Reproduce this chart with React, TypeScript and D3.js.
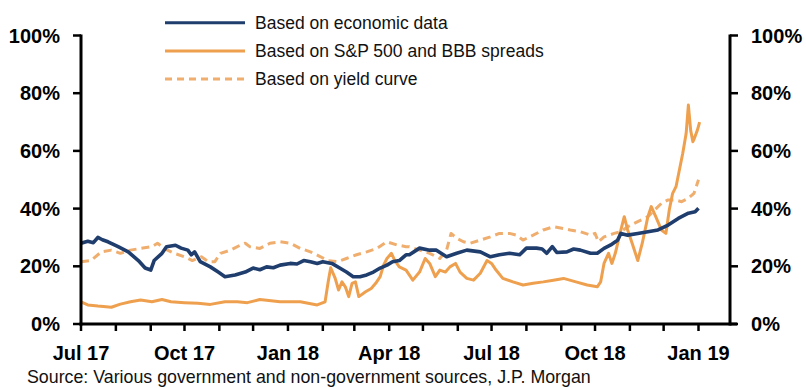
import React from "react";
import * as d3 from "d3";

const legendLabels = [
  "Based on economic data",
  "Based on S&P 500 and BBB spreads",
  "Based on yield curve",
];
const yTicks = [0, 20, 40, 60, 80, 100];
const xLabelMonths = ["2017-07-01", "2017-10-01", "2018-01-01", "2018-04-01", "2018-07-01", "2018-10-01", "2019-01-01"];
const xLabelTexts = ["Jul 17", "Oct 17", "Jan 18", "Apr 18", "Jul 18", "Oct 18", "Jan 19"];
const sourceText = "Source: Various government and non-government sources, J.P. Morgan";

const economic: [string, number][] = [
  ["2017-07-01", 28], ["2017-07-07", 28.7], ["2017-07-12", 28.2], ["2017-07-16", 30], ["2017-07-20", 29.2],
  ["2017-07-25", 28.5], ["2017-08-03", 26.8], ["2017-08-12", 25], ["2017-08-21", 22], ["2017-08-27", 19.4],
  ["2017-09-01", 18.7], ["2017-09-04", 22], ["2017-09-11", 24.5], ["2017-09-15", 26.8], ["2017-09-23", 27.3],
  ["2017-09-28", 26.3], ["2017-10-04", 25.6], ["2017-10-07", 24], ["2017-10-10", 25], ["2017-10-15", 21.6],
  ["2017-10-24", 19.8], ["2017-10-31", 18], ["2017-11-06", 16.4], ["2017-11-15", 17], ["2017-11-24", 18],
  ["2017-12-01", 19.4], ["2017-12-07", 18.8], ["2017-12-13", 19.8], ["2017-12-19", 19.5], ["2017-12-25", 20.4],
  ["2018-01-03", 21], ["2018-01-09", 20.8], ["2018-01-15", 22], ["2018-01-21", 21.6], ["2018-01-27", 21],
  ["2018-02-01", 21.6], ["2018-02-09", 21], ["2018-02-16", 19.4], ["2018-02-22", 18], ["2018-02-28", 16.4],
  ["2018-03-06", 16.4], ["2018-03-12", 17], ["2018-03-18", 18], ["2018-03-24", 19.4], ["2018-03-30", 20.4],
  ["2018-04-04", 21.6], ["2018-04-10", 22], ["2018-04-16", 24], ["2018-04-19", 24], ["2018-04-28", 26.3],
  ["2018-05-07", 25.6], ["2018-05-13", 25.6], ["2018-05-22", 23.3], ["2018-05-31", 24.5], ["2018-06-09", 25.6],
  ["2018-06-21", 25], ["2018-06-30", 23.3], ["2018-07-08", 24], ["2018-07-17", 24.5], ["2018-07-26", 24],
  ["2018-08-01", 26.3], ["2018-08-10", 26.3], ["2018-08-15", 26], ["2018-08-19", 24.5], ["2018-08-24", 26.8],
  ["2018-08-28", 24.8], ["2018-09-06", 25], ["2018-09-12", 26], ["2018-09-18", 25.6], ["2018-09-27", 24.5],
  ["2018-10-03", 24.5], ["2018-10-09", 26.2], ["2018-10-15", 27.4], ["2018-10-21", 29], ["2018-10-24", 31.4],
  ["2018-10-30", 30.8], ["2018-11-08", 31.4], ["2018-11-17", 32], ["2018-11-26", 32.6], ["2018-12-05", 34.3],
  ["2018-12-14", 36.6], ["2018-12-23", 38.4], ["2018-12-29", 38.9], ["2019-01-01", 40.1],
];

const spreads: [string, number][] = [
  ["2017-07-01", 7.7], ["2017-07-07", 6.6], ["2017-07-16", 6.2], ["2017-07-28", 5.8], ["2017-08-05", 6.9],
  ["2017-08-14", 7.7], ["2017-08-23", 8.3], ["2017-09-02", 7.7], ["2017-09-11", 8.5], ["2017-09-19", 7.7],
  ["2017-10-01", 7.4], ["2017-10-13", 7.2], ["2017-10-24", 6.8], ["2017-11-06", 7.7], ["2017-11-17", 7.7],
  ["2017-11-26", 7.4], ["2017-12-07", 8.5], ["2017-12-25", 7.7], ["2018-01-12", 7.7], ["2018-01-27", 6.6],
  ["2018-02-03", 7.7], ["2018-02-06", 15.2], ["2018-02-08", 19.5], ["2018-02-12", 15.8], ["2018-02-15", 11.8],
  ["2018-02-18", 14.6], ["2018-02-21", 12.9], ["2018-02-24", 9.5], ["2018-02-27", 14.1], ["2018-03-02", 14.6],
  ["2018-03-05", 9.5], ["2018-03-11", 11.2], ["2018-03-16", 12.3], ["2018-03-20", 14.1], ["2018-03-24", 16.4],
  ["2018-03-27", 20.4], ["2018-03-30", 22.7], ["2018-04-03", 24.5], ["2018-04-06", 22], ["2018-04-10", 19.8],
  ["2018-04-16", 18.7], ["2018-04-22", 15.2], ["2018-04-28", 18], ["2018-05-03", 22.7], ["2018-05-07", 21],
  ["2018-05-12", 16.4], ["2018-05-16", 18.7], ["2018-05-21", 18], ["2018-05-25", 19.8], ["2018-05-30", 21],
  ["2018-06-03", 18], ["2018-06-09", 15.8], ["2018-06-15", 15.2], ["2018-06-21", 17.6], ["2018-06-27", 22],
  ["2018-07-01", 21], ["2018-07-05", 18.7], ["2018-07-11", 15.8], ["2018-07-20", 14.6], ["2018-07-29", 13.5],
  ["2018-08-07", 14.1], ["2018-08-16", 14.6], ["2018-08-25", 15.2], ["2018-09-03", 15.8], ["2018-09-14", 14.6],
  ["2018-09-24", 13.5], ["2018-10-03", 12.9], ["2018-10-06", 14.6], ["2018-10-09", 21], ["2018-10-13", 24.5],
  ["2018-10-16", 21], ["2018-10-19", 24.5], ["2018-10-24", 32.6], ["2018-10-27", 37.2], ["2018-10-30", 32.6],
  ["2018-11-03", 28], ["2018-11-08", 22], ["2018-11-12", 28], ["2018-11-17", 37.2], ["2018-11-20", 40.7],
  ["2018-11-24", 37.2], ["2018-11-29", 32.6], ["2018-12-03", 31.4], ["2018-12-06", 39.5], ["2018-12-09", 45.3],
  ["2018-12-12", 47.6], ["2018-12-15", 53.4], ["2018-12-18", 59.2], ["2018-12-21", 66], ["2018-12-23", 75.9],
  ["2018-12-25", 67.2], ["2018-12-27", 63.2], ["2018-12-28", 64], ["2018-12-31", 67.2], ["2019-01-02", 70],
];

const yieldCurve: [string, number][] = [
  ["2017-07-01", 21.6], ["2017-07-10", 22], ["2017-07-19", 25], ["2017-07-28", 25.6], ["2017-08-05", 24.5],
  ["2017-08-14", 25.6], ["2017-08-23", 26.2], ["2017-09-02", 26.8], ["2017-09-07", 28], ["2017-09-13", 26.2],
  ["2017-09-22", 24.5], ["2017-10-01", 23.3], ["2017-10-08", 22], ["2017-10-16", 23.3], ["2017-10-22", 21.6],
  ["2017-10-28", 21.6], ["2017-11-02", 24.5], ["2017-11-11", 25.6], ["2017-11-20", 27.4], ["2017-11-24", 28],
  ["2017-11-28", 26.8], ["2017-12-07", 26.2], ["2017-12-16", 28], ["2017-12-25", 28.5], ["2018-01-03", 28],
  ["2018-01-12", 26.2], ["2018-01-21", 25], ["2018-01-30", 23.3], ["2018-02-05", 22], ["2018-02-14", 21.6],
  ["2018-02-22", 22.7], ["2018-03-03", 24], ["2018-03-12", 25], ["2018-03-21", 26.2], ["2018-03-30", 28.5],
  ["2018-04-08", 27.4], ["2018-04-16", 26.8], ["2018-04-19", 26.8], ["2018-04-28", 25.6], ["2018-05-07", 24.5],
  ["2018-05-16", 22.7], ["2018-05-22", 25.6], ["2018-05-26", 31.4], ["2018-05-31", 29.7], ["2018-06-06", 28.5],
  ["2018-06-12", 28], ["2018-06-21", 29.1], ["2018-06-30", 30.2], ["2018-07-08", 31.4], ["2018-07-17", 31.4],
  ["2018-07-23", 30.8], ["2018-07-29", 29.1], ["2018-08-07", 30.8], ["2018-08-16", 32.6], ["2018-08-25", 33.7],
  ["2018-09-03", 33.1], ["2018-09-09", 32.6], ["2018-09-18", 32], ["2018-09-27", 30.8], ["2018-10-01", 31.4],
  ["2018-10-04", 28.5], ["2018-10-09", 30.2], ["2018-10-18", 31.4], ["2018-10-24", 32], ["2018-10-30", 33.7],
  ["2018-11-08", 35.5], ["2018-11-17", 37.2], ["2018-11-23", 39.5], ["2018-11-29", 41.8], ["2018-12-05", 43],
  ["2018-12-11", 43], ["2018-12-17", 42.4], ["2018-12-23", 43.6], ["2018-12-28", 45.3], ["2019-01-01", 50],
];

const parse = d3.timeParse("%Y-%m-%d");

const BLUE = "#1f3d6d";
const ORANGE = "#eea04e";
const ORANGE_LIGHT = "#f0ae6e";

export default function App() {
  const W = 806, H = 388;
  const left = 81, right = 730, top = 35.5, bottom = 324;
  const x = d3.scaleTime()
    .domain([parse("2017-07-01")!, parse("2019-01-29")!])
    .range([left, right]);
  const y = d3.scaleLinear().domain([0, 100]).range([bottom, top]);

  const line = d3.line<[string, number]>()
    .x((d) => x(parse(d[0])!))
    .y((d) => y(d[1]));

  const monthTicks = d3.timeMonth.range(parse("2017-07-01")!, parse("2019-01-02")!);
  const font = "'Liberation Sans', Arial, sans-serif";

  const series = [
    { data: yieldCurve, color: ORANGE_LIGHT, width: 3, dash: "8,5" },
    { data: spreads, color: ORANGE, width: 3, dash: undefined },
    { data: economic, color: BLUE, width: 3.6, dash: undefined },
  ];
  const legendStyles = [
    { color: BLUE, width: 3, dash: undefined },
    { color: ORANGE, width: 3, dash: undefined },
    { color: ORANGE_LIGHT, width: 3, dash: "7,5" },
  ];

  return (
    <svg width={W} height={H} style={{ position: "absolute", left: 0, top: 0, background: "#fff" }} fontFamily={font}>
      {/* legend */}
      {legendLabels.map((lab, i) => {
        const ly = 22.7 + i * 28.2;
        const st = legendStyles[i];
        return (
          <g key={lab}>
            <line x1={165} x2={245} y1={ly} y2={ly} stroke={st.color} strokeWidth={st.width} strokeDasharray={st.dash} />
            <text x={255} y={ly + 6} fontSize={17.5} fill="#111">{lab}</text>
          </g>
        );
      })}

      {/* series */}
      {series.map((s, i) => (
        <path key={i} d={line(s.data) || ""} fill="none" stroke={s.color} strokeWidth={s.width}
          strokeDasharray={s.dash} strokeLinejoin="round" />
      ))}

      {/* axes */}
      <line x1={left} x2={left} y1={top - 1} y2={bottom + 1.5} stroke="#000" strokeWidth={3} />
      <line x1={right} x2={right} y1={top - 1} y2={bottom + 1.5} stroke="#000" strokeWidth={3} />
      <line x1={left - 1.5} x2={right + 7} y1={bottom} y2={bottom} stroke="#000" strokeWidth={3} />
      {yTicks.map((t) => (
        <g key={t}>
          <line x1={left - 8} x2={left} y1={y(t)} y2={y(t)} stroke="#000" strokeWidth={2.5} />
          <line x1={right} x2={right + 8} y1={y(t)} y2={y(t)} stroke="#000" strokeWidth={2.5} />
          <text x={60} y={y(t) + 7} textAnchor="end" fontSize={20} fontWeight="bold" fill="#000">{t}%</text>
          <text x={751} y={y(t) + 7} textAnchor="start" fontSize={20} fontWeight="bold" fill="#000">{t}%</text>
        </g>
      ))}
      {monthTicks.map((m, i) => (
        <line key={i} x1={x(m)} x2={x(m)} y1={bottom} y2={bottom + 7} stroke="#000" strokeWidth={2.5} />
      ))}
      {xLabelMonths.map((m, i) => (
        <text key={m} x={x(parse(m)!)} y={360} textAnchor="middle" fontSize={20} fontWeight="bold" fill="#000">
          {xLabelTexts[i]}
        </text>
      ))}
      <text x={27} y={383} fontSize={17.8} fill="#111">{sourceText}</text>
    </svg>
  );
}
